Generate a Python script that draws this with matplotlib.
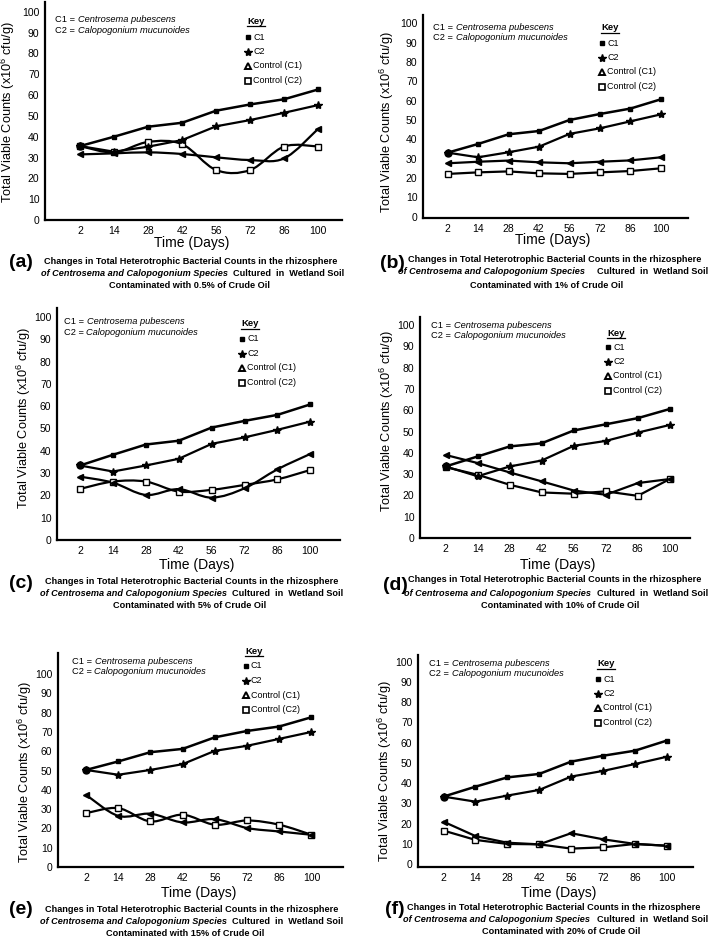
import matplotlib
matplotlib.use("Agg")
import matplotlib.pyplot as plt
from matplotlib.path import Path
from matplotlib.patches import PathPatch
from matplotlib.lines import Line2D

plt.rcParams["font.family"] = ["Liberation Sans", "DejaVu Sans"]
plt.rcParams["mathtext.fontset"] = "custom"
plt.rcParams["mathtext.rm"] = "Liberation Sans"
plt.rcParams["mathtext.it"] = "Liberation Sans:italic"
plt.rcParams["mathtext.bf"] = "Liberation Sans:bold"
plt.rcParams["mathtext.default"] = "regular"

W, H = 710, 940

# ---- data ----
days = [2, 14, 28, 42, 56, 72, 86, 100]
y_ticks = [0, 10, 20, 30, 40, 50, 60, 70, 80, 90, 100]

c1_a = [35.5, 40, 44.8, 46.7, 52.5, 55.5, 58, 62.7]
c2_a = [35.5, 32.8, 35.2, 38.4, 45, 48, 51.5, 55.2]
ctl1_a = [31.5, 32, 32.5, 31.7, 30.1, 28.8, 29.6, 43.8]
ctl2_a = [35.5, 32.5, 37.5, 36.4, 24, 24, 35.3, 35.3]

c1_b = [33.1, 37.6, 42.6, 44.3, 50, 53.1, 55.9, 60.7]
c2_b = [33.1, 30.7, 33.3, 36.2, 42.8, 45.7, 49.3, 52.9]
ctl1_b = [27.6, 28.4, 29, 28.1, 27.6, 28.4, 29.1, 30.7]
ctl2_b = [22.1, 22.9, 23.4, 22.4, 22.1, 22.9, 23.6, 25]

c1_c = [33.4, 38.2, 42.8, 44.5, 50.4, 53.4, 56.1, 60.8]
c2_c = [33.4, 30.7, 33.4, 36.4, 43.1, 46, 49.4, 53.1]
ctl1_c = [28.4, 25.7, 20.2, 22.8, 19.0, 23.2, 31.7, 38.6]
ctl2_c = [22.9, 26.2, 26.2, 21.7, 22.5, 24.7, 27.2, 31.4]

c1_d = [33.6, 38.3, 43, 44.5, 50.5, 53.4, 56.3, 60.6]
c2_d = [33.6, 29, 33.6, 36.4, 43.3, 45.6, 49.5, 53.1]
ctl1_d = [39, 35.2, 30.8, 26.6, 22.3, 20.3, 25.8, 27.7]
ctl2_d = [33.3, 29.7, 25, 21.4, 20.8, 21.9, 19.8, 27.7]

c1_e = [50.3, 54.7, 59.5, 61.2, 67.2, 70.5, 72.8, 77.6]
c2_e = [50.3, 47.8, 50.3, 53.3, 60.2, 62.8, 66.4, 70]
ctl1_e = [37.4, 26.5, 27.6, 23.1, 24.8, 20.2, 18.4, 16.7]
ctl2_e = [27.9, 30.5, 23.6, 27.1, 21.9, 24.1, 21.9, 16.7]

c1_f = [33.3, 38.2, 42.8, 44.5, 50.6, 53.5, 56, 61]
c2_f = [33.3, 30.8, 33.8, 36.6, 43.2, 46, 49.4, 53]
ctl1_f = [20.9, 13.8, 10.5, 9.7, 15.2, 12.2, 9.9, 9]
ctl2_f = [16.5, 11.9, 9.9, 9.7, 7.6, 8.2, 9.9, 9]

oil_levels = ["0.5%", "1%", "5%", "10%", "15%", "20%"]
panel_letters = ["a", "b", "c", "d", "e", "f"]
series = [
    (c1_a, c2_a, ctl1_a, ctl2_a),
    (c1_b, c2_b, ctl1_b, ctl2_b),
    (c1_c, c2_c, ctl1_c, ctl2_c),
    (c1_d, c2_d, ctl1_d, ctl2_d),
    (c1_e, c2_e, ctl1_e, ctl2_e),
    (c1_f, c2_f, ctl1_f, ctl2_f),
]
# which control lines are drawn as smooth curves in the original
smooth = [(True, True), (False, False), (True, True),
          (False, False), (True, True), (False, False)]

# ---- layout (pixels) ----
# axes box L, T, R, B ; xlim ; ylim
boxes = [
    ((45, 2, 342, 220), (-1.03, 7.7), (0, 104.7)),
    ((423, 15, 688, 218), (-0.81, 7.89), (-0.7, 104.3)),
    ((57, 308, 340, 540), (-0.7, 7.9), (0, 104)),
    ((420, 317, 690, 538), (-0.8, 7.63), (0, 103.8)),
    ((58, 653, 343, 867), (-0.87, 7.98), (0, 110.9)),
    ((418, 655, 693, 867), (-0.8, 7.82), (-1.5, 103.3)),
]
ylabel_pos = [(8, 112), (387, 122), (24, 418), (387, 421), (25, 772), (385, 771)]
xlabel_pos = [(192, 243), (553, 240), (197, 565), (558, 565), (199, 893), (559, 893)]
species_pos = [(55, 20), (433, 27), (64, 322), (431, 325), (72, 661), (429, 663)]
key_pos = [(248, 21, 37), (602, 28, 43), (242, 324, 339), (608, 333, 347),
           (246, 651, 666), (598, 664, 679)]
# caption: letter x,y ; line1 left,y ; line2 left,right,y ; line3 center,y
caps = [
    ((21, 263), (44, 261), (41, 344, 273), (190, 285)),
    ((392, 264), (408, 259), (398, 708, 272), (547, 286)),
    ((21, 584), (45, 581), (40, 343, 593), (190, 606)),
    ((395, 585), (408, 579), (404, 708, 593), (560, 605)),
    ((21, 910), (45, 910), (40, 343, 922), (185, 933)),
    ((395, 910), (407, 907), (403, 708, 920), (561, 932)),
]
CAP_FS = 6.6
SP_FS = 6.7


def fx(x):
    return x / W


def fy(y):
    return 1 - y / H


def smooth_path(xs, ys):
    # Catmull-Rom through the data points, drawn as cubic Bezier segments
    n = len(xs)
    verts = [(xs[0], ys[0])]
    codes = [Path.MOVETO]
    for i in range(n - 1):
        p0 = (xs[max(i - 1, 0)], ys[max(i - 1, 0)])
        p1 = (xs[i], ys[i])
        p2 = (xs[i + 1], ys[i + 1])
        p3 = (xs[min(i + 2, n - 1)], ys[min(i + 2, n - 1)])
        c1 = (p1[0] + (p2[0] - p0[0]) / 6, p1[1] + (p2[1] - p0[1]) / 6)
        c2 = (p2[0] - (p3[0] - p1[0]) / 6, p2[1] - (p3[1] - p1[1]) / 6)
        verts += [c1, c2, p2]
        codes += [Path.CURVE4] * 3
    return Path(verts, codes)


def draw_line(ax, ys, curved, lw):
    xs = list(range(len(ys)))
    if curved:
        ax.add_patch(PathPatch(smooth_path(xs, ys), fill=False, lw=lw,
                               edgecolor="black", capstyle="round"))
    else:
        ax.plot(xs, ys, color="black", lw=lw, solid_capstyle="round")


fig = plt.figure(figsize=(W / 100, H / 100), dpi=100)
renderer = fig.canvas.get_renderer()


def two_part(x, y, head, tail):
    # upright "C1 = " followed by the italic species name
    t = fig.text(fx(x), fy(y), head, ha="left", va="center", fontsize=SP_FS)
    w = t.get_window_extent(renderer).width
    fig.text(fx(x + w), fy(y), tail, ha="left", va="center", fontsize=SP_FS,
             style="italic")


for k in range(6):
    (L, T, R, B), xl, yl = boxes[k]
    ax = fig.add_axes([fx(L), fy(B), (R - L) / W, (B - T) / H])
    ax.set_xlim(*xl)
    ax.set_ylim(*yl)
    for s in ("top", "right"):
        ax.spines[s].set_visible(False)
    for s in ("left", "bottom"):
        ax.spines[s].set_linewidth(1.6)
    ax.set_xticks(range(len(days)))
    ax.set_xticklabels([str(d) for d in days])
    ax.set_yticks(y_ticks)
    ax.tick_params(length=0, labelsize=7.5, pad=4)

    c1, c2, ctl1, ctl2 = series[k]
    sm1, sm2 = smooth[k]
    xs = range(len(days))
    draw_line(ax, ctl2, sm2, 1.6)
    draw_line(ax, ctl1, sm1, 1.6)
    draw_line(ax, c2, False, 1.6)
    draw_line(ax, c1, False, 1.8)
    ax.plot(xs, ctl2, ls="none", marker="s", ms=4, mfc="white", mec="black", mew=1)
    ax.plot(xs, ctl1, ls="none", marker="<", ms=4, color="black")
    ax.plot(xs, c2, ls="none", marker="*", ms=6, color="black")
    ax.plot(xs, c1, ls="none", marker="s", ms=2.5, color="black")
    ax.plot([0], [c1[0]], ls="none", marker="o", ms=5, color="black")

    # axis titles
    yx, yy = ylabel_pos[k]
    fig.text(fx(yx), fy(yy), "Total Viable Counts (x10$^6$ cfu/g)", rotation=90,
             ha="center", va="center", fontsize=9.2)
    tx, ty = xlabel_pos[k]
    fig.text(fx(tx), fy(ty), "Time (Days)", ha="center", va="center", fontsize=10)

    # species text
    sx, sy = species_pos[k]
    two_part(sx, sy, "C1 = ", "Centrosema pubescens")
    two_part(sx, sy + 10.5, "C2 = ", "Calopogonium mucunoides")

    # key
    kx, ky, ky0 = key_pos[k]
    fig.text(fx(kx + 8), fy(ky), "Key", ha="center", va="center", fontsize=6.8,
             weight="bold")
    fig.add_artist(Line2D([fx(kx - 1), fx(kx + 17)], [fy(ky + 5), fy(ky + 5)],
                          color="black", lw=0.9))
    key_items = [("C1", dict(marker="s", ms=3, color="black")),
                 ("C2", dict(marker="*", ms=6, color="black")),
                 ("Control (C1)", dict(marker="^", ms=5, mfc="white", mec="black", mew=1.4)),
                 ("Control (C2)", dict(marker="s", ms=5, mfc="white", mec="black", mew=1.2))]
    for j, (lab, mk) in enumerate(key_items):
        yy_ = ky0 + j * 14.5
        fig.add_artist(Line2D([fx(kx)], [fy(yy_)], ls="none", **mk))
        fig.text(fx(kx + 5), fy(yy_), lab, ha="left", va="center", fontsize=6.5)

    # caption
    (lx, ly), (l1x, l1y), (l2a, l2b, l2y), (l3x, l3y) = caps[k]
    fig.text(fx(lx), fy(ly), f"({panel_letters[k]})", ha="center", va="center",
             fontsize=14, weight="bold")
    fig.text(fx(l1x), fy(l1y),
             "Changes in Total Heterotrophic Bacterial Counts in the rhizosphere",
             ha="left", va="center", fontsize=CAP_FS, weight="bold")
    fig.text(fx(l2a), fy(l2y), "of Centrosema and Calopogonium Species",
             ha="left", va="center", fontsize=CAP_FS, weight="bold", style="italic")
    fig.text(fx(l2b), fy(l2y), "Cultured  in  Wetland Soil",
             ha="right", va="center", fontsize=CAP_FS, weight="bold")
    fig.text(fx(l3x), fy(l3y), f"Contaminated with {oil_levels[k]} of Crude Oil",
             ha="center", va="center", fontsize=CAP_FS, weight="bold")

fig.savefig("out.png", dpi=100)
